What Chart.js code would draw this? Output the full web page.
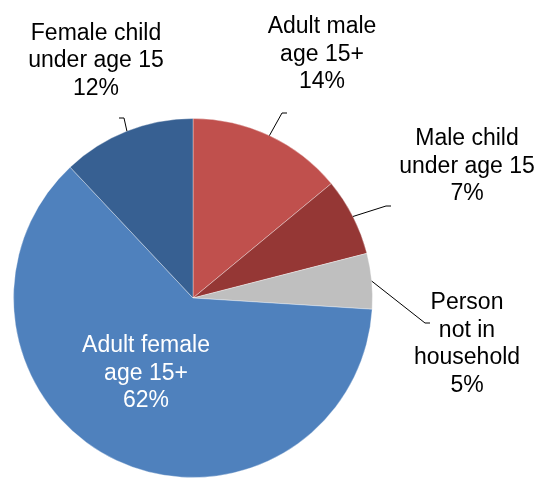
<!DOCTYPE html>
<html>
<head>
<meta charset="utf-8">
<script src="https://cdn.jsdelivr.net/npm/chart.js@4/dist/chart.umd.min.js"></script>
<style>
  html, body { margin: 0; padding: 0; background: #fff; }
  #wrap { width: 543px; height: 478px; }
</style>
</head>
<body>
<div id="wrap"><canvas id="pie" width="543" height="478"></canvas></div>
<script>
// slices, clockwise from 12 o'clock
const groups = ["Adult male age 15+", "Male child under age 15", "Person not in household", "Adult female age 15+", "Female child under age 15"];
const labelLines = [
    ["Adult male", "age 15+"],
    ["Male child", "under age 15"],
    ["Person", "not in", "household"],
    ["Adult female", "age 15+"],
    ["Female child", "under age 15"]
];
const shares = [14, 7, 5, 62, 12];
const sliceColors = ["#C0504D", "#953735", "#BFBFBF", "#4F81BD", "#376092"];

// where each label block sits (centre x, first baseline) and its leader elbow
const labelPos = [
    { x: 322, y: 33, color: "#000", knee: [282, 113], tail: 5 },
    { x: 467, y: 145, color: "#000", knee: [386, 206], tail: 5 },
    { x: 467, y: 309, color: "#000", knee: [425, 323], tail: 5 },
    { x: 146, y: 352, color: "#fff", knee: null },
    { x: 96, y: 39.5, color: "#000", knee: [124, 118], tail: -5 }
];
const lineHeight = 27.5;

const pieLabels = {
    id: "pieLabels",
    afterDatasetsDraw(chart) {
        const ctx = chart.ctx;
        const arcs = chart.getDatasetMeta(0).data;
        ctx.save();
        arcs.forEach((arc, i) => {
            const pos = labelPos[i];
            if (pos.knee) {
                const p = arc.getProps(["x", "y", "startAngle", "endAngle", "outerRadius"], true);
                const mid = (p.startAngle + p.endAngle) / 2;
                const sx = p.x + Math.cos(mid) * p.outerRadius;
                const sy = p.y + Math.sin(mid) * p.outerRadius;
                ctx.beginPath();
                ctx.moveTo(sx, sy);
                ctx.lineTo(pos.knee[0], pos.knee[1]);
                ctx.lineTo(pos.knee[0] + pos.tail, pos.knee[1]);
                ctx.strokeStyle = "#000";
                ctx.lineWidth = 1;
                ctx.stroke();
            }
            const lines = labelLines[i].concat([shares[i] + "%"]);
            ctx.fillStyle = pos.color;
            ctx.font = "23px 'Liberation Sans', Arial, sans-serif";
            ctx.textAlign = "center";
            ctx.textBaseline = "alphabetic";
            lines.forEach((t, k) => ctx.fillText(t, pos.x, pos.y + k * lineHeight));
        });
        ctx.restore();
    }
};

new Chart(document.getElementById("pie").getContext("2d"), {
    type: "pie",
    data: {
        labels: groups,
        datasets: [{
            data: shares,
            backgroundColor: sliceColors,
            borderColor: "rgba(255,255,255,0.35)",
            borderWidth: 1
        }]
    },
    options: {
        responsive: false,
        animation: false,
        layout: { padding: { left: 13, right: 170, top: 118, bottom: 0 } },
        plugins: {
            legend: { display: false },
            tooltip: { enabled: false }
        }
    },
    plugins: [pieLabels]
});
</script>
</body>
</html>
